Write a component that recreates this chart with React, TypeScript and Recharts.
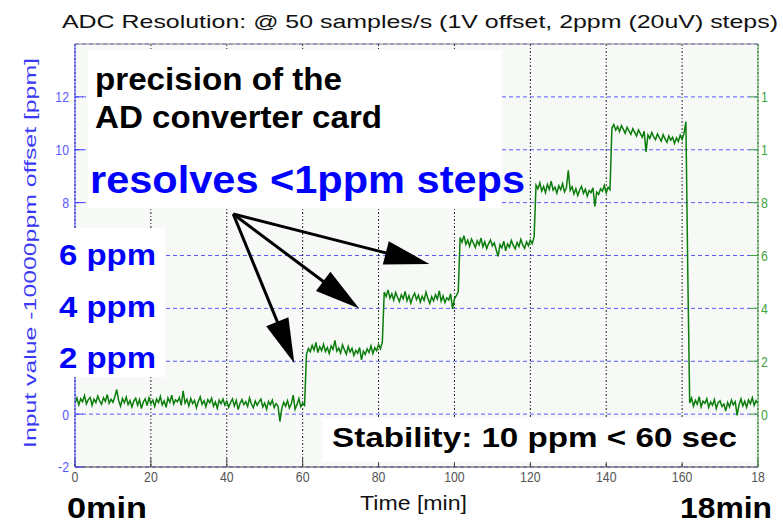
import {
  CartesianGrid,
  Line,
  LineChart,
  ReferenceLine,
  XAxis,
  YAxis,
} from "recharts";

// one sample every half minute
const TIME_STEP = 0.5;

// 0 .. 60.5 min, baseline
const level0 = [
  0.42, 0.61, 0.35, 0.58, 0.47, 0.7, 0.39, 0.55, 0.63, 0.33,
  0.57, 0.44, 0.68, 0.5, 0.37, 0.62, 0.48, 0.74, 0.41, 0.56,
  0.45, 0.66, 0.93, 0.52, 0.3, 0.59, 0.43, 0.64, 0.36, 0.51,
  0.27, 0.49, 0.6, 0.34, 0.55, 0.21, 0.46, 0.58, 0.32, 0.62,
  0.4, 0.53, 0.29, 0.57, 0.44, 0.67, 0.35, 0.5, 0.26, 0.61,
  0.45, 0.72, 0.38, 0.54, 0.47, 0.63, 0.33, 0.88, 0.42, 0.56,
  0.31, 0.59, 0.4, 0.52, 0.24, 0.48, 0.65, 0.37, 0.51, 0.28,
  0.55, 0.43, 0.6, 0.3, 0.46, 0.22, 0.53, 0.39, 0.57, 0.34,
  0.49, 0.26, 0.44, 0.58, 0.31, 0.52, 0.17, 0.41, 0.55, 0.36,
  0.47, 0.29, 0.61, 0.38, 0.24, 0.5, 0.33, 0.46, 0.57, 0.27,
  0.42, 0.19, 0.48, 0.35, 0.53, 0.25, 0.4, 0.31, -0.28, 0.22,
  0.45, 0.3, 0.51, 0.23, 0.38, 0.72, 0.18, 0.36, 0.59, 0.28,
  0.41, 0.33,
];

// 61 .. 81 min, +2 ppm
const level2 = [
  2.25, 2.48, 2.36, 2.6, 2.42, 2.71, 2.33, 2.55, 2.4, 2.64,
  2.37, 2.52, 2.29, 2.58, 2.45, 2.79, 2.38, 2.5, 2.31, 2.62,
  2.43, 2.27, 2.56, 2.35, 2.49, 2.22, 2.41, 2.3, 2.52, 2.05,
  2.38, 2.26, 2.47, 2.33, 2.58, 2.29, 2.51, 2.4, 2.63, 2.48,
  2.72,
];

// 81.5 .. 101 min, +4 ppm
const level4 = [
  4.62, 4.45, 4.7, 4.38, 4.55, 4.31, 4.6, 4.42, 4.26, 4.51,
  4.36, 4.64, 4.29, 4.48, 4.2, 4.43, 4.57, 4.33, 4.5, 4.24,
  4.46, 4.3, 4.61, 4.37, 4.19, 4.44, 4.28, 4.52, 4.35, 4.66,
  4.27, 4.47, 4.22, 4.4, 4.32, 4.55, 3.98, 4.36, 4.48, 4.63,
];

// 101.5 .. 121 min, +6 ppm
const level6 = [
  6.68, 6.5, 6.75, 6.42, 6.58, 6.35, 6.62, 6.47, 6.3, 6.55,
  6.4, 6.66, 6.33, 6.52, 6.26, 6.45, 6.59, 6.36, 6.48, 6.22,
  5.97, 6.41, 6.29, 6.54, 6.18, 6.44, 6.31, 6.57, 6.38, 6.25,
  6.49, 6.34, 6.61, 6.4, 6.27, 6.52, 6.37, 6.58, 6.45, 6.7,
];

// 121.5 .. 141 min, +8 ppm
const level8 = [
  8.66, 8.52, 8.75, 8.44, 8.61, 8.38, 8.69, 8.5, 8.81, 8.47,
  8.58, 8.36, 8.64, 8.49, 8.72, 8.41, 8.55, 9.22, 8.46, 8.6,
  8.33, 8.53, 8.27, 8.48, 8.62, 8.35, 8.51, 8.24, 8.45, 8.38,
  8.56, 7.86, 8.4, 8.31, 8.52, 8.43, 8.65, 8.37, 8.58, 8.49,
];

// 141.5 .. 161 min, +10 ppm
const level10 = [
  10.82, 10.95, 10.74, 10.88, 10.69, 10.91, 10.78, 10.62, 10.85, 10.71,
  10.58, 10.8, 10.66, 10.52, 10.75, 10.61, 10.47, 10.7, 9.92, 10.56,
  10.43, 10.65, 10.5, 10.38, 10.6, 10.46, 10.33, 10.57, 10.41, 10.28,
  10.52, 10.36, 10.47, 10.24, 10.45, 10.31, 10.55, 10.39, 10.62, 11.06,
];

// 161.5 min, half way down
const dropSample = [5.3];

// 162 .. 180 min, back to baseline
const levelBack = [
  0.42, 0.61, 0.3, 0.52, 0.37, 0.66, 0.28, 0.49, 0.41, 0.58,
  0.25, 0.46, 0.34, 0.55, 0.21, 0.43, 0.5, 0.29, 0.38, 0.12,
  0.44, 0.27, 0.53, 0.35, 0.47, -0.05, 0.36, 0.58, 0.31, 0.49,
  0.26, 0.54, 0.39, 0.62, 0.33, 0.51, 0.4,
];

const trace = [
  ...level0,
  ...level2,
  ...level4,
  ...level6,
  ...level8,
  ...level10,
  ...dropSample,
  ...levelBack,
];

const data = trace.map((v, i) => ({ t: i * TIME_STEP, v }));

const xTicks = [0, 20, 40, 60, 80, 100, 120, 140, 160, 180];
const leftTicks = [-2, 0, 2, 4, 6, 8, 10, 12];
const rightTicks = [0, 2, 4, 6, 8, 10, 12];
// left labels covered by the "x ppm" box in the original
const hiddenLeft = [2, 4, 6];

// arrows "resolves <1ppm steps" (time, ppm)
const arrowFrom = { t: 41.7, v: 7.57 };
const arrowTips = [
  { t: 57.8, v: 1.92 },
  { t: 74.9, v: 4.0 },
  { t: 93.4, v: 5.68 },
];

const SANS = '"Liberation Sans", Arial, sans-serif';

function Arrow(props: any) {
  const { x1, y1, x2, y2 } = props;
  const dx = x2 - x1;
  const dy = y2 - y1;
  const len = Math.hypot(dx, dy);
  const ux = dx / len;
  const uy = dy / len;
  const head = 45;
  const half = 12;
  const bx = x2 - ux * head;
  const by = y2 - uy * head;
  return (
    <g>
      <line x1={x1} y1={y1} x2={bx + ux * 4} y2={by + uy * 4} stroke="#000" strokeWidth={3} />
      <polygon
        points={`${x2},${y2} ${bx - uy * half},${by + ux * half} ${bx + uy * half},${by - ux * half}`}
        fill="#000"
      />
    </g>
  );
}

// narrow-looking tick text (the original uses a condensed face)
function narrowTick(fill: string, fmt: (v: number) => string, dy: string) {
  return (p: any) => (
    <text
      transform={`translate(${p.x},${p.y}) scale(0.82,1)`}
      textAnchor={p.textAnchor}
      fill={fill}
      fontSize={15}
      fontFamily={SANS}
      dy={dy}
    >
      {fmt(p.payload.value)}
    </text>
  );
}

export default function App() {
  return (
    <div
      style={{
        position: "absolute",
        left: 0,
        top: 0,
        width: 783,
        height: 523,
        background: "#fff",
      }}
    >
      <LineChart
        width={783}
        height={523}
        data={data}
        margin={{ top: 14, right: 0, bottom: 0, left: 0 }}
      >
        <CartesianGrid
          yAxisId="left"
          vertical={false}
          stroke="#5c5cff"
          strokeDasharray="4 3"
          fill="#f6f9f6"
        />
        <CartesianGrid
          yAxisId="left"
          horizontal={false}
          stroke="#222"
          strokeDasharray="2 2 1 2"
        />
        <XAxis
          dataKey="t"
          type="number"
          domain={[0, 180]}
          ticks={xTicks}
          allowDataOverflow
          height={56}
          stroke="#444"
          tickSize={-8}
          tickMargin={12}
          tick={narrowTick("#555", (v) => (v === 180 ? "18" : String(v)), "0.75em")}
        />
        <XAxis
          xAxisId="top"
          orientation="top"
          type="number"
          domain={[0, 180]}
          ticks={xTicks}
          allowDataOverflow
          height={30}
          stroke="#888"
          tickSize={-6}
          tick={false}
        />
        <YAxis
          yAxisId="left"
          type="number"
          domain={[-2, 14]}
          ticks={leftTicks}
          allowDataOverflow
          width={75}
          stroke="#3b3bff"
          tickSize={-8}
          tickMargin={14}
          tick={narrowTick(
            "#5a5aff",
            (v) => (hiddenLeft.includes(v) ? "" : String(v)),
            "0.36em"
          )}
        />
        <YAxis
          yAxisId="right"
          orientation="right"
          type="number"
          domain={[-2, 14]}
          ticks={rightTicks}
          allowDataOverflow
          width={25}
          stroke="#3fa33f"
          tickSize={-8}
          tickMargin={11}
          tick={narrowTick("#3fa33f", (v) => (v >= 10 ? "1" : String(v)), "0.36em")}
        />
        <Line
          yAxisId="left"
          dataKey="v"
          type="linear"
          stroke="#0b7d0b"
          strokeWidth={1.5}
          dot={false}
          isAnimationActive={false}
        />
        {arrowTips.map((tip, i) => (
          <ReferenceLine
            key={i}
            yAxisId="left"
            segment={[
              { x: arrowFrom.t, y: arrowFrom.v },
              { x: tip.t, y: tip.v },
            ]}
            shape={Arrow}
          />
        ))}
      </LineChart>

      <svg
        width={783}
        height={523}
        style={{ position: "absolute", left: 0, top: 0, pointerEvents: "none" }}
        fontFamily={SANS}
      >
        <text x={62} y={28} fontSize={19} fill="#111" textLength={716} lengthAdjust="spacingAndGlyphs">
          ADC Resolution: @ 50 samples/s (1V offset, 2ppm (20uV) steps)
        </text>
        <text
          x={36}
          y={253}
          fontSize={17}
          fill="#3a3af5"
          textAnchor="middle"
          transform="rotate(-90 36 253)"
          textLength={390}
          lengthAdjust="spacingAndGlyphs"
        >
          Input value -10000ppm offset  [ppm]
        </text>

        <rect x={88} y={50} width={414} height={158} fill="#fff" />
        <text x={95} y={90} fontSize={31} fontWeight="bold" fill="#000" textLength={247} lengthAdjust="spacingAndGlyphs">
          precision of the
        </text>
        <text x={95} y={128} fontSize={31} fontWeight="bold" fill="#000" textLength={287} lengthAdjust="spacingAndGlyphs">
          AD converter card
        </text>
        <text x={90} y={193} fontSize={38} fontWeight="bold" fill="#0000ff" textLength={435} lengthAdjust="spacingAndGlyphs">
          resolves &lt;1ppm steps
        </text>

        <rect x={48} y={228} width={117} height={149} fill="#fff" />
        <text x={59} y={265} fontSize={29} fontWeight="bold" fill="#0000ff" textLength={97} lengthAdjust="spacingAndGlyphs">
          6 ppm
        </text>
        <text x={59} y={317} fontSize={29} fontWeight="bold" fill="#0000ff" textLength={97} lengthAdjust="spacingAndGlyphs">
          4 ppm
        </text>
        <text x={59} y={368} fontSize={29} fontWeight="bold" fill="#0000ff" textLength={97} lengthAdjust="spacingAndGlyphs">
          2 ppm
        </text>

        <rect x={322} y={418} width={433} height={44} fill="#fff" />
        <text x={332} y={447} fontSize={28} fontWeight="bold" fill="#000" textLength={405} lengthAdjust="spacingAndGlyphs">
          Stability: 10 ppm &lt; 60 sec
        </text>

        <text x={360} y={510} fontSize={20} fill="#111" textLength={107} lengthAdjust="spacingAndGlyphs">
          Time [min]
        </text>
        <text x={67} y={518} fontSize={30} fontWeight="bold" fill="#000" textLength={80} lengthAdjust="spacingAndGlyphs">
          0min
        </text>
        <text x={680} y={518} fontSize={30} fontWeight="bold" fill="#000" textLength={92} lengthAdjust="spacingAndGlyphs">
          18min
        </text>
      </svg>
    </div>
  );
}
